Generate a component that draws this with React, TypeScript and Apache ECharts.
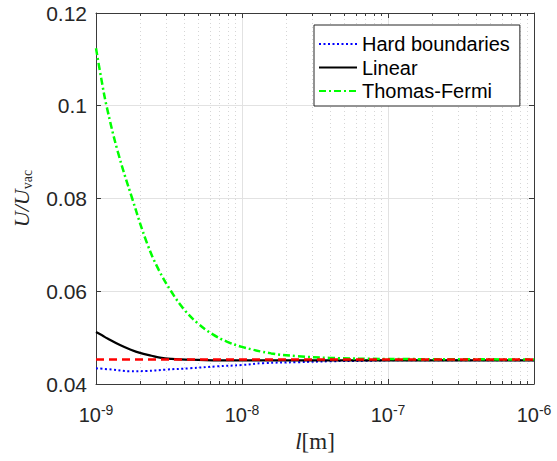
import React, { useEffect, useRef } from "react";
import * as echarts from "echarts";

// Length scale l [m]
const hardL = [1e-9, 1.3e-9, 1.7e-9, 2.2e-9, 3e-9, 4.4e-9, 6.7e-9, 1e-8, 1.4e-8, 2.4e-8, 4e-8, 7e-8, 1e-7, 1e-6];
const hardU = [0.0434, 0.0431, 0.04275, 0.0428, 0.0431, 0.0434, 0.0438, 0.0441, 0.0445, 0.0447, 0.0449, 0.045, 0.0451, 0.0451];

const linearL = [1e-9, 1.1e-9, 1.2e-9, 1.46e-9, 1.7e-9, 2e-9, 2.4e-9, 2.74e-9, 3.3e-9, 3.76e-9, 5e-9, 7e-9, 1e-8, 1e-7, 1e-6];
const linearU = [0.0512, 0.0505, 0.0498, 0.0484, 0.0475, 0.0467, 0.0461, 0.0457, 0.0454, 0.0453, 0.0452, 0.0451, 0.0451, 0.0451, 0.0451];

const tfL = [1e-9, 1.086e-9, 1.18e-9, 1.413e-9, 1.77e-9, 2.24e-9, 2.69e-9, 3.27e-9, 3.98e-9, 5.01e-9, 6.31e-9, 7.94e-9, 1e-8, 1.585e-8, 2.4e-8, 3.98e-8, 1e-7, 1e-6];
const tfU = [0.1124, 0.1059, 0.1, 0.09, 0.08, 0.0703, 0.0646, 0.06, 0.0562, 0.053, 0.0507, 0.0491, 0.048, 0.0466, 0.046, 0.04563, 0.0454, 0.0453];

// Vacuum reference level
const refL = [1e-9, 1e-6];
const refU = [0.0453, 0.0453];

const seriesNames = ["Hard boundaries", "Linear", "Thomas-Fermi"];
const xMin = 1e-9;
const xMax = 1e-6;
const yMin = 0.04;
const yMax = 0.12;
const yStep = 0.02;
const decades = [1e-9, 1e-8, 1e-7];
const minorSteps = [2, 3, 4, 5, 6, 7, 8, 9];

const axisColor = "#3a3a3a";
const textColor = "#262626";

const pairs = (xs: number[], ys: number[]) => xs.map((x, i) => [x, ys[i]]);

export default function App() {
  const ref = useRef<HTMLDivElement>(null);

  useEffect(() => {
    if (!ref.current) return;
    const chart = echarts.init(ref.current, undefined, { renderer: "svg" });
    const minorTicks: number[][] = [];
    decades.forEach((d) => minorSteps.forEach((m) => minorTicks.push([d * m, yMin])));

    const xAxisBase = {
      type: "log" as const,
      logBase: 10,
      min: xMin,
      max: xMax,
      axisLine: { show: true, lineStyle: { color: axisColor, width: 1 } },
      axisTick: { show: true, inside: true, length: 5, lineStyle: { color: axisColor } },
      minorTick: { show: false },
    };
    const yAxisBase = {
      type: "value" as const,
      min: yMin,
      max: yMax,
      interval: yStep,
      axisLine: { show: true, lineStyle: { color: axisColor, width: 1 } },
      axisTick: { show: true, inside: true, length: 5, lineStyle: { color: axisColor } },
    };

    chart.setOption({
      animation: false,
      grid: { left: 96, right: 23, top: 13, bottom: 77, containLabel: false },
      legend: {
        data: seriesNames,
        orient: "vertical",
        left: 314,
        top: 25,
        itemWidth: 38,
        itemHeight: 12,
        itemGap: 3.5,
        padding: [9, 10, 5, 4],
        borderColor: "#262626",
        borderWidth: 1,
        backgroundColor: "#ffffff",
        itemStyle: { opacity: 0 },
        textStyle: { fontFamily: "Liberation Sans", fontSize: 20, lineHeight: 20, color: "#000" },
      },
      xAxis: [
        {
          ...xAxisBase,
          position: "bottom",
          name: "{i|l}{r|[m]}",
          nameLocation: "middle",
          nameGap: 41,
          nameTextStyle: {
            rich: {
              i: { fontFamily: "Liberation Serif", fontStyle: "italic", fontSize: 23, lineHeight: 26, color: textColor },
              r: { fontFamily: "Liberation Serif", fontSize: 23, lineHeight: 26, color: textColor },
            },
          },
          splitLine: { show: true, lineStyle: { color: "#e2e2e2", width: 1 } },
          axisLabel: {
            margin: 19,
            formatter: (v: number) => "{b|10}{s|" + Math.round(Math.log10(v)) + "}",
            rich: {
              b: { fontFamily: "Liberation Sans", fontSize: 20, lineHeight: 24, color: textColor },
              s: { fontFamily: "Liberation Sans", fontSize: 14, lineHeight: 14, verticalAlign: "top", color: textColor },
            },
          },
        },
        {
          ...xAxisBase,
          position: "top",
          axisLabel: { show: false },
          splitLine: { show: false },
        },
      ],
      yAxis: [
        {
          ...yAxisBase,
          position: "left",
          name: "{i|U/U}{s|vac}",
          nameLocation: "middle",
          nameGap: 62,
          nameRotate: 90,
          nameTextStyle: {
            rich: {
              i: { fontFamily: "Liberation Serif", fontStyle: "italic", fontSize: 22, lineHeight: 26, color: textColor },
              s: { fontFamily: "Liberation Serif", fontSize: 14, lineHeight: 9, verticalAlign: "bottom", color: textColor },
            },
          },
          splitLine: { show: true, lineStyle: { color: "#e2e2e2", width: 1 } },
          axisLabel: {
            margin: 9,
            fontFamily: "Liberation Sans",
            fontSize: 21,
            color: textColor,
            formatter: (v: number) => String(Number(v.toFixed(2))),
          },
        },
        {
          ...yAxisBase,
          position: "right",
          axisLabel: { show: false },
          splitLine: { show: false },
        },
      ],
      series: [
        {
          // minor grid lines and minor ticks at 2..9 × each decade
          type: "custom",
          name: "minor",
          coordinateSystem: "cartesian2d",
          silent: true,
          z: 1,
          data: minorTicks,
          encode: { x: 0, y: 1 },
          renderItem: (_params: any, api: any) => {
            const x = api.value(0);
            const b = api.coord([x, yMin]);
            const t = api.coord([x, yMax]);
            const px = Math.round(b[0]) + 0.5;
            return {
              type: "group",
              children: [
                {
                  type: "line",
                  shape: { x1: px, y1: b[1], x2: px, y2: t[1] },
                  style: { stroke: "#d6d6d6", lineWidth: 1, lineDash: [1, 3] },
                },
                {
                  type: "line",
                  shape: { x1: px, y1: b[1], x2: px, y2: b[1] - 3 },
                  style: { stroke: axisColor, lineWidth: 1 },
                },
                {
                  type: "line",
                  shape: { x1: px, y1: t[1], x2: px, y2: t[1] + 3 },
                  style: { stroke: axisColor, lineWidth: 1 },
                },
              ],
            };
          },
        },
        {
          type: "line",
          name: "Hard boundaries",
          data: pairs(hardL, hardU),
          symbol: "none",
          smooth: 0.4,
          z: 3,
          lineStyle: { color: "#0000ff", width: 2, type: [2, 2.5] },
          itemStyle: { color: "#0000ff" },
        },
        {
          type: "line",
          name: "Linear",
          data: pairs(linearL, linearU),
          symbol: "none",
          smooth: 0.4,
          z: 3,
          lineStyle: { color: "#000000", width: 2.2, type: "solid" },
          itemStyle: { color: "#000000" },
        },
        {
          type: "line",
          name: "Thomas-Fermi",
          data: pairs(tfL, tfU),
          symbol: "none",
          smooth: 0.4,
          z: 3,
          lineStyle: { color: "#00ff00", width: 2.5, type: [7, 3, 2, 3] },
          itemStyle: { color: "#00ff00" },
        },
        {
          type: "line",
          name: "vacuum",
          data: pairs(refL, refU),
          symbol: "none",
          z: 4,
          lineStyle: { color: "#ff0000", width: 2.5, type: [8, 5] },
          itemStyle: { color: "#ff0000" },
        },
      ],
    });
    return () => chart.dispose();
  }, []);

  return (
    <div
      ref={ref}
      style={{ position: "fixed", left: 0, top: 0, width: 557, height: 461, background: "#ffffff" }}
    />
  );
}
